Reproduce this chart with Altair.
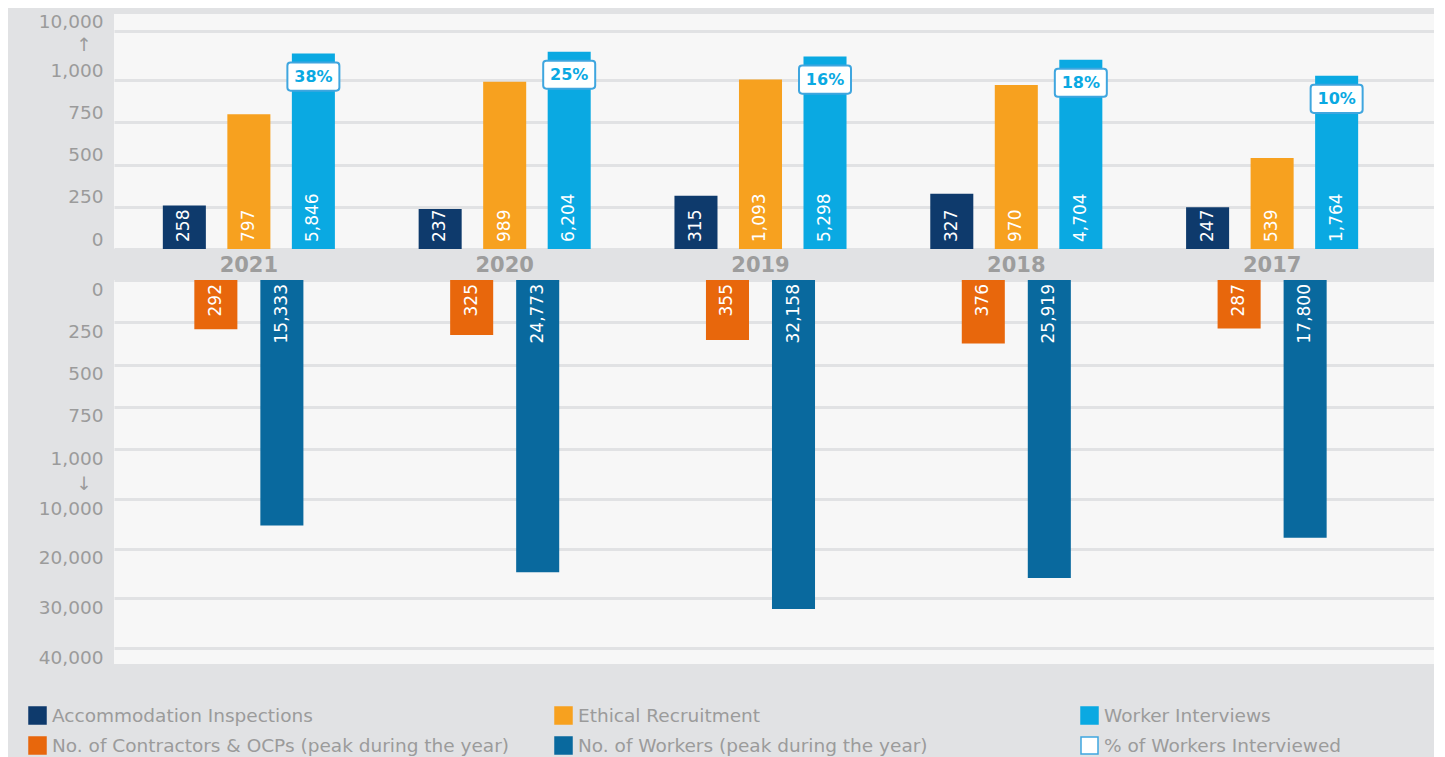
import altair as alt
import pandas as pd

# ---- data ----
years = ["2021", "2020", "2019", "2018", "2017"]
accommodation_inspections = [258, 237, 315, 327, 247]
ethical_recruitment = [797, 989, 1093, 970, 539]
worker_interviews = [5846, 6204, 5298, 4704, 1764]
contractors_ocps = [292, 325, 355, 376, 287]
no_of_workers = [15333, 24773, 32158, 25919, 17800]
pct_workers_interviewed = ["38%", "25%", "16%", "18%", "10%"]

series_names = [
    "Accommodation Inspections",
    "Ethical Recruitment",
    "Worker Interviews",
    "No. of Contractors & OCPs (peak during the year)",
    "No. of Workers (peak during the year)",
    "% of Workers Interviewed",
]
fill_colors = ["#0e3a6c", "#f7a11f", "#0aa9e2", "#e8670c", "#09699e", "#ffffff"]
stroke_colors = ["#0e3a6c", "#f7a11f", "#0aa9e2", "#e8670c", "#09699e", "#3fa6df"]

top_ticks = [0, 250, 500, 750, 1000, 10000]
bottom_ticks = [0, 250, 500, 750, 1000, 10000, 20000, 30000, 40000]

top_series = series_names[:3]
bottom_series = series_names[3:5]
bottom_slots = ["_left"] + bottom_series + ["_right"]

# ---- tables ----
top_rows = []
for i, yr in enumerate(years):
    for s, vals in zip(top_series, [accommodation_inspections, ethical_recruitment, worker_interviews]):
        top_rows.append({"year": yr, "slot": s, "series": s, "value": vals[i]})
top_df = pd.DataFrame(top_rows)

bottom_rows = []
for i, yr in enumerate(years):
    for s, vals in zip(bottom_series, [contractors_ocps, no_of_workers]):
        bottom_rows.append({"year": yr, "slot": s, "series": s, "value": vals[i]})
bottom_df = pd.DataFrame(bottom_rows)

pct_df = pd.DataFrame({
    "year": years,
    "slot": [series_names[2]] * len(years),
    "series": [series_names[5]] * len(years),
    "value": worker_interviews,
    "pct": pct_workers_interviewed,
})

FONT = "DejaVu Sans"
GRAY_TXT = "#9b9b9b"
BG = "#e1e2e4"
PAD = "\u00a0" * 2 + "\u200b"

legend = alt.Legend(
    title=None, orient="none", legendX=-86, legendY=692, columns=3,
    direction="horizontal", symbolType="square", symbolSize=289,
    symbolStrokeWidth=1.5, labelFont=FONT, labelFontSize=18.5,
    labelColor=GRAY_TXT, labelLimit=800, columnPadding=42, rowPadding=7,
    gridAlign="all", labelOffset=5, padding=0,
)
fill_scale = alt.Scale(domain=series_names, range=fill_colors)
stroke_scale = alt.Scale(domain=series_names, range=stroke_colors)

x_top = alt.X(
    "year:N", sort=years,
    scale=alt.Scale(paddingInner=0, paddingOuter=0.08, align=0.17),
    axis=alt.Axis(title=None, labelFont=FONT, labelFontSize=21, labelFontWeight="bold",
                  labelColor="#9d9d9d", labelPadding=16, labelBaseline="middle",
                  labelAngle=0, ticks=False, domain=False),
)
xo_top = alt.XOffset("slot:N", sort=top_series,
                     scale=alt.Scale(domain=top_series, paddingInner=0.333, paddingOuter=0.649))

y_top = alt.Y(
    "value:Q", stack=None,
    scale=alt.Scale(domain=[0, 1000, 10000], range=[235, 66, 17], nice=False),
    axis=alt.Axis(values=top_ticks, title=None, labelBaseline="bottom", labelLineHeight=23,
                  labelPadding=11, labelOverlap=False, labelFontSize=18.5,
                  labelExpr="datum.value == 10000 ? ['10,000', '\u2191" + PAD + "'] : datum.label"),
)

top_bars = alt.Chart(top_df).mark_bar().encode(
    x=x_top, xOffset=xo_top, y=y_top,
    fill=alt.Fill("series:N", scale=fill_scale, legend=legend),
)
top_labels = alt.Chart(top_df).mark_text(
    angle=270, align="left", baseline="middle", dx=7, color="white", font=FONT, fontSize=17
).encode(
    x=x_top, xOffset=xo_top, y=alt.datum(0), text=alt.Text("value:Q", format=","),
)
box_path = ("M-0.88,-0.54 L0.88,-0.54 Q1,-0.54 1,-0.42 L1,0.42 Q1,0.54 0.88,0.54 "
            "L-0.88,0.54 Q-1,0.54 -1,0.42 L-1,-0.42 Q-1,-0.54 -0.88,-0.54 Z")
pct_boxes = alt.Chart(pct_df).mark_point(
    shape=box_path, size=2704, filled=True, opacity=1, strokeWidth=2, yOffset=23
).encode(
    x=x_top, xOffset=xo_top, y=alt.Y("value:Q"),
    fill=alt.Fill("series:N", scale=fill_scale, legend=legend),
    stroke=alt.Stroke("series:N", scale=stroke_scale, legend=legend),
)
pct_text = alt.Chart(pct_df).mark_text(
    font=FONT, fontWeight="bold", fontSize=16, color="#0aa9e2", yOffset=23, baseline="middle"
).encode(
    x=x_top, xOffset=xo_top, y=alt.Y("value:Q"), text="pct:N",
)

top = alt.layer(top_bars, top_labels, pct_boxes, pct_text).properties(width=1320, height=235)

x_bot = alt.X("year:N", sort=years,
              scale=alt.Scale(paddingInner=0, paddingOuter=0.08, align=0.17), axis=None)
xo_bot = alt.XOffset("slot:N", sort=bottom_slots,
                     scale=alt.Scale(domain=bottom_slots, paddingInner=0.348, paddingOuter=0.1115))
y_bot = alt.Y(
    "value:Q", stack=None,
    scale=alt.Scale(domain=[0, 1000, 10000, 40000], range=[0, 169, 219, 368], nice=False),
    axis=alt.Axis(values=bottom_ticks, title=None, labelBaseline="top", labelLineHeight=25,
                  labelPadding=11, labelOverlap=False, labelFontSize=18.5,
                  labelExpr="datum.value == 1000 ? ['1,000', '\u2193" + PAD + "'] : datum.label"),
)
bot_bars = alt.Chart(bottom_df).mark_bar().encode(
    x=x_bot, xOffset=xo_bot, y=y_bot,
    fill=alt.Fill("series:N", scale=fill_scale, legend=legend),
)
bot_labels = alt.Chart(bottom_df).mark_text(
    angle=270, align="right", baseline="middle", dx=-4, color="white", font=FONT, fontSize=17
).encode(
    x=x_bot, xOffset=xo_bot, y=alt.datum(0), text=alt.Text("value:Q", format=","),
)
bottom = alt.layer(bot_bars, bot_labels).properties(width=1320, height=384)

chart = alt.vconcat(top, bottom, spacing=31, bounds="flush").resolve_scale(
    x="independent", y="independent", xOffset="independent", fill="shared", stroke="shared"
).configure(
    background=BG, padding={"left": 20, "top": 4, "right": 0, "bottom": 0}
).configure_view(
    fill="#f7f7f7", strokeWidth=0
).configure_axis(
    labelFont=FONT, labelColor=GRAY_TXT, domain=False, ticks=False,
    gridColor=BG, gridWidth=3,
)

chart.save("out.html", embed_options={"renderer": "svg", "actions": False})
